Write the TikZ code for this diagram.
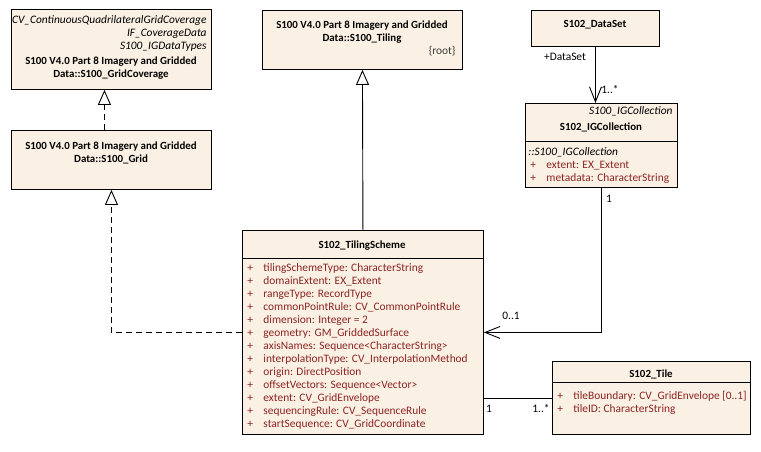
\documentclass[tikz,border=0pt]{standalone}
\usepackage{fontspec}
\setmainfont{Carlito}
\usetikzlibrary{arrows.meta}
\definecolor{class-fill}{RGB}{250, 240, 228}
\definecolor{attr-red}{RGB}{140, 36, 36}
\definecolor{note-grey}{RGB}{60, 60, 60}
\newcommand{\umlsize}{\fontsize{11.4}{13}\selectfont}
\newcommand{\umlbold}{\fontsize{10.9}{13.6}\selectfont\bfseries}
\newcommand{\umlattr}[1]{\makebox[16pt][l]{+}#1}
\tikzset{
  classbox/.style={draw, fill=class-fill, anchor=north west, inner sep=0pt},
  classname/.style={font=\umlbold, inner sep=0pt, align=center},
  stereo/.style={font=\umlsize\itshape, inner sep=0pt, align=right},
  attrs/.style={font=\umlsize, text=attr-red, inner sep=0pt, align=left},
  plain/.style={font=\umlsize, inner sep=0pt},
  realize/.style={dash pattern=on 6pt off 4pt, -{Triangle[open, length=15pt, width=13pt, fill=white]}},
  generalize/.style={-{Triangle[open, length=15pt, width=13pt, fill=white]}},
  assoc/.style={-{Straight Barb[length=15pt, width=12pt]}}
}

\begin{document}
\begin{tikzpicture}[x=1pt, y=-1pt, line width=0.9pt]
\useasboundingbox (0,0) rectangle (761,451);
% class boxes
\node[classbox, minimum width=200pt, minimum height=80pt] (coverage) at (11,9) {};
\node[classbox, minimum width=200pt, minimum height=59pt] (grid) at (11,130) {};
\node[classbox, minimum width=200pt, minimum height=59pt] (tiling) at (262,10) {};
\node[classbox, minimum width=128pt, minimum height=36pt] (dataset) at (531,10) {};
\node[classbox, minimum width=152pt, minimum height=84pt] (igc) at (525,103) {};
\node[classbox, minimum width=241pt, minimum height=204pt] (scheme) at (242,230) {};
\node[classbox, minimum width=198pt, minimum height=73pt] (tile) at (552,361) {};
\draw (igc.west |- 0,141) -- (igc.east |- 0,141);
\draw (scheme.west |- 0,258) -- (scheme.east |- 0,258);
\draw (tile.west |- 0,382) -- (tile.east |- 0,382);

% texts
\node[stereo, anchor=north east] (coverageS) at (207,15) {CV\_ContinuousQuadrilateralGridCoverage\\IF\_CoverageData\\S100\_IGDataTypes};
\node[classname] (coverageN) at (111,68) {S100 V4.0 Part 8 Imagery and Gridded\\Data::S100\_GridCoverage};
\node[classname] (gridN) at (111,153) {S100 V4.0 Part 8 Imagery and Gridded\\Data::S100\_Grid};
\node[classname] (tilingN) at (362,32) {S100 V4.0 Part 8 Imagery and Gridded\\Data::S100\_Tiling};
\node[plain, text=note-grey, anchor=mid east] (tilingR) at (456,52) {\{root\}};
\node[classname, anchor=mid] (datasetN) at (595,25) {S102\_DataSet};
\node[stereo, anchor=mid east] (igcS) at (673,112) {S100\_IGCollection};
\node[classname, anchor=mid] (igcN) at (601,128) {S102\_IGCollection};
\node[stereo, anchor=mid west] (igcP) at (528,153) {::S100\_IGCollection};
\node[attrs, anchor=north west] (igcA) at (530,161) {\umlattr{extent: EX\_Extent}\\\umlattr{metadata: CharacterString}};
\node[classname, anchor=mid] (schemeN) at (362,246) {S102\_TilingScheme};
\node[attrs, anchor=north west] (schemeA) at (247,263) {\umlattr{tilingSchemeType: CharacterString}\\
  \umlattr{domainExtent: EX\_Extent}\\
  \umlattr{rangeType: RecordType}\\
  \umlattr{commonPointRule: CV\_CommonPointRule}\\
  \umlattr{dimension: Integer = 2}\\
  \umlattr{geometry: GM\_GriddedSurface}\\
  \umlattr{axisNames: Sequence<CharacterString>}\\
  \umlattr{interpolationType: CV\_InterpolationMethod}\\
  \umlattr{origin: DirectPosition}\\
  \umlattr{offsetVectors: Sequence<Vector>}\\
  \umlattr{extent: CV\_GridEnvelope}\\
  \umlattr{sequencingRule: CV\_SequenceRule}\\
  \umlattr{startSequence: CV\_GridCoordinate}};
\node[classname, anchor=mid] (tileN) at (651,375) {S102\_Tile};
\node[attrs, anchor=north west] (tileA) at (557,391) {\umlattr{tileBoundary: CV\_GridEnvelope [0..1]}\\\umlattr{tileID: CharacterString}};

% connectors
\draw[realize] ([xshift=-7pt]grid.north) -- ([xshift=-7pt]coverage.south);
\draw[realize] (scheme.west) -| (grid.south);
\draw[generalize] (scheme.north) -- (tiling.south);
\draw[assoc] (dataset.south) -- (dataset.south |- igc.north);
\draw[assoc] (igc.south) |- (scheme.east);
\draw (tile.west) -- (tile.west -| scheme.east);

% role and multiplicity labels
\node[plain, anchor=mid] (roleDataSet) at (565,58) {+DataSet};
\node[plain, anchor=mid] (multDataSet) at (610,91) {1..*};
\node[plain, anchor=mid] (multIgc) at (609,200) {1};
\node[plain, anchor=mid] (multScheme) at (511,317) {0..1};
\node[plain, anchor=mid] (multSchemeTile) at (489,410) {1};
\node[plain, anchor=mid] (multTile) at (541,410) {1..*};
\end{tikzpicture}
\end{document}
